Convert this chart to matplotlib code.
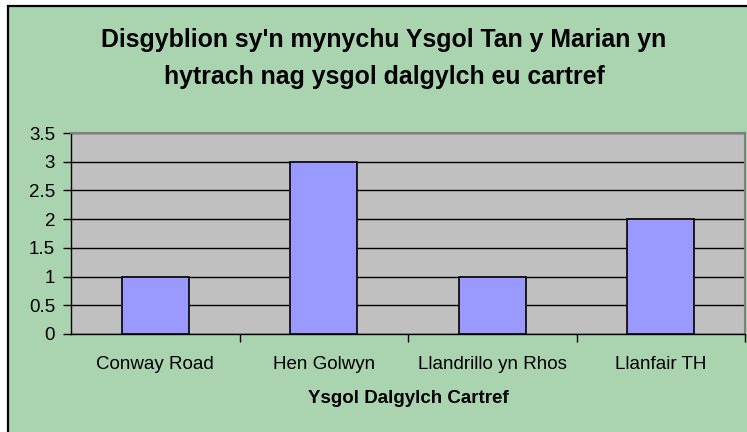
import matplotlib.pyplot as plt
from matplotlib.patches import Rectangle
from matplotlib.ticker import MultipleLocator, FixedLocator

# data
schools = ['Conway Road', 'Hen Golwyn', 'Llandrillo yn Rhos', 'Llanfair TH']
pupils = [1, 3, 1, 2]

title = "Disgyblion sy'n mynychu Ysgol Tan y Marian yn\nhytrach nag ysgol dalgylch eu cartref"
xlabel = 'Ysgol Dalgylch Cartref'

plt.rcParams['font.family'] = ['Liberation Sans', 'DejaVu Sans']

W, H = 747, 432
fig = plt.figure(figsize=(W / 100, H / 100), dpi=100, facecolor='white')

# green chart area with black border (left/top visible)
fig.patches.append(Rectangle((7.5 / W, -0.05), 1.2, 1 - 5.5 / H + 0.05,
                             transform=fig.transFigure, facecolor='#aad4b0',
                             edgecolor='black', linewidth=1.6, zorder=-1))

ax = fig.add_axes([71 / W, 1 - 334 / H, (745 - 71) / W, (334 - 133) / H])
ax.set_facecolor('#c0c0c0')

x = range(len(schools))
ax.bar(x, pupils, width=0.4, color='#9999ff', edgecolor='black', linewidth=1.2, zorder=3)

ax.set_xlim(-0.5, len(schools) - 0.5)
ax.set_ylim(0, 3.5)
ax.yaxis.set_major_locator(MultipleLocator(0.5))
ax.set_yticklabels([f'{v:g}' for v in ax.get_yticks()])
ax.grid(axis='y', color='black', linewidth=1.0, zorder=1)
ax.set_axisbelow(True)

# category labels centered, ticks at boundaries
ax.set_xticks(list(x))
ax.set_xticklabels(schools)
ax.xaxis.set_minor_locator(FixedLocator([i + 0.5 for i in range(len(schools))]))
ax.tick_params(axis='x', which='major', length=0, pad=16, labelsize=13.5)
ax.tick_params(axis='x', which='minor', length=6, width=1, color='black')
ax.tick_params(axis='y', length=6, width=1, pad=5.5, labelsize=13.5)

for side in ['top', 'right']:
    ax.spines[side].set_color('#808080')
    ax.spines[side].set_linewidth(1.5)
for side in ['left', 'bottom']:
    ax.spines[side].set_color('black')
    ax.spines[side].set_linewidth(1.0)

ax.set_xlabel(xlabel, fontsize=13.5, fontweight='bold', labelpad=12)

fig.text(384 / W, 1 - 58.5 / H, title, ha='center', va='center', fontsize=17.9,
         fontweight='bold', linespacing=1.65)

fig.savefig('out.png', dpi=100, facecolor=fig.get_facecolor())
